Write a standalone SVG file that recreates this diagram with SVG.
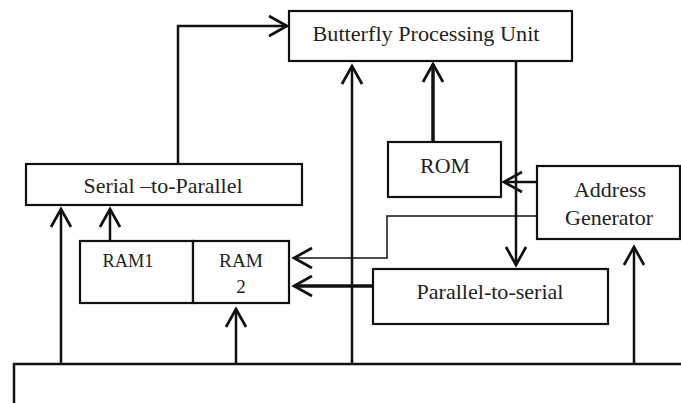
<svg xmlns="http://www.w3.org/2000/svg" width="681" height="403" viewBox="0 0 681 403">
<style>
.box{fill:#fff;stroke:#111;stroke-width:2.2}
.t{font-family:"Liberation Serif","Times New Roman",serif;font-size:21px;fill:#222;text-anchor:middle}
.r{font-size:19px}
.c{fill:none;stroke:#111;stroke-width:2.5}
.thick{stroke-width:3.5}
.thin{stroke-width:1.5}
</style>
<defs>
<marker id="ah" viewBox="-22 -13 26 26" refX="0" refY="0" markerWidth="26" markerHeight="26" markerUnits="userSpaceOnUse" orient="auto">
<path d="M-18,-10 L0,0 L-18,10" fill="none" stroke="#111" stroke-width="2.7"/>
</marker>
</defs>
<rect width="681" height="403" fill="#fff"/>
<g id="connectors">
<path class="c" d="M14,403 V364 H681"/>
<path class="c" d="M178,164 V26 H287" marker-end="url(#ah)"/>
<path class="c" d="M61,364 V209" marker-end="url(#ah)"/>
<path class="c" d="M110,241 V209" marker-end="url(#ah)"/>
<path class="c" d="M236,364 V309" marker-end="url(#ah)"/>
<path class="c" d="M352,364 V66" marker-end="url(#ah)"/>
<path class="c thick" d="M433,142 V64" marker-end="url(#ah)"/>
<path class="c" d="M516,61 V265" marker-end="url(#ah)"/>
<path class="c" d="M537,182 H504" marker-end="url(#ah)"/>
<path class="c thin" d="M537,216 H387 V258 H294" marker-end="url(#ah)"/>
<path class="c thick" d="M373,286 H294" marker-end="url(#ah)"/>
<path class="c" d="M634,364 V247" marker-end="url(#ah)"/>
</g>
<g id="butterfly">
<rect class="box" x="289" y="11" width="283" height="50"/>
<text class="t" x="426" y="41" textLength="227" lengthAdjust="spacingAndGlyphs">Butterfly Processing Unit</text>
</g>
<g id="serial-to-parallel">
<rect class="box" x="26" y="164" width="276" height="41"/>
<text class="t" x="163" y="193" textLength="159" lengthAdjust="spacingAndGlyphs">Serial –to-Parallel</text>
</g>
<g id="rom">
<rect class="box" x="388" y="142" width="113" height="55"/>
<text class="t" x="445" y="173" textLength="50" lengthAdjust="spacingAndGlyphs">ROM</text>
</g>
<g id="address-generator">
<rect class="box" x="537" y="166" width="143" height="73"/>
<text class="t" x="610" y="197" textLength="72" lengthAdjust="spacingAndGlyphs">Address</text>
<text class="t" x="609" y="225" textLength="88" lengthAdjust="spacingAndGlyphs">Generator</text>
</g>
<g id="ram1">
<rect class="box" x="80" y="241" width="113" height="62"/>
<text class="t r" x="128" y="267" textLength="51" lengthAdjust="spacingAndGlyphs">RAM1</text>
</g>
<g id="ram2">
<rect class="box" x="193" y="241" width="96" height="62" stroke-width="2.8"/>
<text class="t r" x="241" y="267" textLength="44" lengthAdjust="spacingAndGlyphs">RAM</text>
<text class="t r" x="241" y="293">2</text>
</g>
<g id="parallel-to-serial">
<rect class="box" x="373" y="269" width="235" height="55"/>
<text class="t" x="490" y="299" textLength="147" lengthAdjust="spacingAndGlyphs">Parallel-to-serial</text>
</g>
</svg>
